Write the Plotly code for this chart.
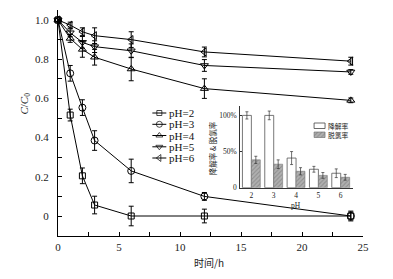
import plotly.graph_objects as go

# ---------------- data ----------------
time_h = [0, 1, 2, 3, 6, 12, 24]
series_names = ["pH=2", "pH=3", "pH=4", "pH=5", "pH=6"]
c_ph2 = [1.0, 0.515, 0.205, 0.056, 0.0, 0.0, 0.0]
c_ph3 = [1.0, 0.728, 0.553, 0.385, 0.23, 0.10, 0.0]
c_ph4 = [1.0, 0.906, 0.85, 0.81, 0.75, 0.65, 0.59]
c_ph5 = [1.0, 0.935, 0.886, 0.864, 0.843, 0.768, 0.735]
c_ph6 = [1.0, 0.974, 0.94, 0.92, 0.90, 0.837, 0.79]
e_ph2 = [0.0, 0.03, 0.04, 0.045, 0.05, 0.035, 0.025]
e_ph3 = [0.0, 0.04, 0.04, 0.05, 0.06, 0.02, 0.02]
e_ph4 = [0.0, 0.02, 0.04, 0.04, 0.06, 0.05, 0.012]
e_ph5 = [0.0, 0.02, 0.03, 0.03, 0.035, 0.03, 0.012]
e_ph6 = [0.0, 0.015, 0.02, 0.04, 0.04, 0.025, 0.02]

inset_ph = [2, 3, 4, 5, 6]
degrad_rate = [100, 100, 41, 25.5, 20]
degrad_err = [5, 6, 9, 4, 6]
dechlor_rate = [38.5, 32.5, 22.7, 17, 14.4]
dechlor_err = [5, 6, 5, 4, 4]

legend_labels_inset = ["降解率", "脱氯率"]
y_ticks = [0, 0.2, 0.4, 0.6, 0.8, 1.0]
y_ticktext = ["0", "0.2", "0.4", "0.6", "0.8", "1.0"]

# --------------- figure ---------------
W, H = 393, 279
L, R, T, B = 57.5, 30, 10, 43
PX0, PX1, PY0, PY1 = L, W - R, T, H - B

def px2x(px):
    return (px - PX0) / (PX1 - PX0)

def py2y(py):
    return (PY1 - py) / (PY1 - PY0)

SERIF = "Liberation Serif, Noto Sans CJK SC, serif"
CJK = "Noto Sans CJK SC, Liberation Serif, serif"

symbols = ["square-open", "circle-open", "triangle-up-open", "triangle-down-open", "triangle-left-open"]
sizes = [6, 7, 7, 7, 7]
ys = [c_ph2, c_ph3, c_ph4, c_ph5, c_ph6]
es = [e_ph2, e_ph3, e_ph4, e_ph5, e_ph6]

fig = go.Figure()

for name, sym, sz, y, e in zip(series_names, symbols, sizes, ys, es):
    fig.add_trace(go.Scatter(
        x=time_h, y=y, name=name, mode="lines+markers",
        line=dict(color="black", width=1),
        marker=dict(symbol=sym, size=sz, color="black", line=dict(color="black", width=1)),
        error_y=dict(type="data", array=e, visible=True, color="black", thickness=1, width=2.5),
        showlegend=False, cliponaxis=False,
    ))

# inset bars
fig.add_trace(go.Bar(
    x=inset_ph, y=degrad_rate, name=legend_labels_inset[0], xaxis="x2", yaxis="y2",
    marker=dict(color="white", line=dict(color="#555", width=0.8)),
    error_y=dict(type="data", array=degrad_err, color="#333", thickness=0.7, width=1.5),
    showlegend=False,
))
fig.add_trace(go.Bar(
    x=inset_ph, y=dechlor_rate, name=legend_labels_inset[1], xaxis="x2", yaxis="y2",
    marker=dict(color="#a8a8a8", line=dict(color="#777", width=0.6),
                pattern=dict(shape="/", fgcolor="#6e6e6e", bgcolor="#b0b0b0", size=3, solidity=0.35)),
    error_y=dict(type="data", array=dechlor_err, color="#333", thickness=0.7, width=1.5),
    showlegend=False,
))

# ---- manual legend (pixel-space helper axis) ----
leg_y = [113, 124.3, 135.5, 146.8, 158]
for name, sym, sz, yy in zip(series_names, symbols, sizes, leg_y):
    fig.add_trace(go.Scatter(
        x=[152, 159, 166], y=[yy, yy, yy], xaxis="x3", yaxis="y3", mode="lines+markers",
        line=dict(color="black", width=1),
        marker=dict(symbol=sym, size=[0, sz - 1, 0], color="black", line=dict(color="black", width=1)),
        showlegend=False, hoverinfo="skip",
    ))
    fig.add_annotation(x=167, y=yy, xref="x3", yref="y3", text=name, showarrow=False,
                       xanchor="left", yanchor="middle", font=dict(family=SERIF, size=11, color="#111"))

# inset legend swatches
sw_y = [123, 132]
sw_fill = [dict(color="white", line=dict(color="#444", width=0.8)),
           dict(color="#a8a8a8", line=dict(color="#666", width=0.6),
                pattern=dict(shape="/", fgcolor="#6e6e6e", bgcolor="#b0b0b0", size=3, solidity=0.35))]
for lab, yy, mk in zip(legend_labels_inset, sw_y, sw_fill):
    fig.add_trace(go.Bar(x=[314], y=[5.5], base=[yy], width=[11], offset=[0],
                         xaxis="x3", yaxis="y3", marker=mk, showlegend=False, hoverinfo="skip"))
    fig.add_annotation(x=325.5, y=yy + 2.8, xref="x3", yref="y3", text=lab, showarrow=False,
                       xanchor="left", yanchor="middle", font=dict(family=CJK, size=6.8, color="#222"))

fig.update_layout(
    width=W, height=H,
    margin=dict(l=L, r=R, t=T, b=B, pad=0),
    paper_bgcolor="white", plot_bgcolor="rgba(0,0,0,0)",
    barmode="group", bargap=0.2, bargroupgap=0,
    xaxis=dict(range=[0, 25], tickvals=[0, 5, 10, 15, 20, 25], ticks="inside", ticklen=4,
               tickcolor="black", showline=True, linecolor="black", linewidth=1,
               showgrid=False, zeroline=False, mirror=False,
               minor=dict(dtick=2.5, tick0=0, ticks="inside", ticklen=4, tickcolor="black", showgrid=False),
               tickfont=dict(family=SERIF, size=11, color="#222"), ticklabelstandoff=1),
    yaxis=dict(range=[-0.102, 1.051], tickvals=y_ticks, ticktext=y_ticktext, ticks="inside", ticklen=4,
               tickcolor="black", showline=True, linecolor="black", linewidth=1,
               showgrid=False, zeroline=False,
               minor=dict(dtick=0.1, tick0=0, ticks="inside", ticklen=4, tickcolor="black", showgrid=False),
               tickfont=dict(family=SERIF, size=11, color="#222"), ticklabelstandoff=6),
    xaxis2=dict(domain=[px2x(240), px2x(353)], anchor="y2", range=[1.5, 6.55],
                tickvals=inset_ph, ticks="", showline=True, linecolor="#333", linewidth=0.8,
                showgrid=False, zeroline=False,
                tickfont=dict(family=SERIF, size=7.5, color="#222"), ticklabelstandoff=0),
    yaxis2=dict(domain=[py2y(187.7), py2y(106)], anchor="x2", range=[0, 113],
                tickvals=[0, 50, 100], ticktext=["0", "50%", "100%"], ticks="inside", ticklen=2,
                tickcolor="#333", showline=True, linecolor="#333", linewidth=0.8,
                showgrid=False, zeroline=False,
                tickfont=dict(family=SERIF, size=7.5, color="#222"), ticklabelstandoff=1),
    xaxis3=dict(domain=[0, 1], range=[PX0, PX1], anchor="y3", visible=False, overlaying="x"),
    yaxis3=dict(domain=[0, 1], range=[PY1, PY0], anchor="x3", visible=False, overlaying="y"),
    showlegend=False,
)

# axis titles & inset labels
fig.add_annotation(x=px2x(24), y=py2y(104), xref="paper", yref="paper",
                   xanchor="center", yanchor="middle",
                   text="<i>C</i>/<i>C</i><sub>0</sub>", showarrow=False, textangle=-90,
                   font=dict(family=SERIF, size=11, color="#222"))
fig.add_annotation(x=px2x(209), y=py2y(262), xref="paper", yref="paper",
                   xanchor="center", yanchor="middle",
                   text="时间/h", showarrow=False,
                   font=dict(family=CJK, size=10, color="#222"))
fig.add_annotation(x=px2x(212), y=py2y(148), xref="paper", yref="paper",
                   xanchor="center", yanchor="middle",
                   text="降解率 &amp; 脱氯率", showarrow=False, textangle=-90,
                   font=dict(family=CJK, size=7.5, color="#222"))
fig.add_annotation(x=px2x(296), y=py2y(205), xref="paper", yref="paper",
                   xanchor="center", yanchor="middle",
                   text="pH", showarrow=False,
                   font=dict(family=SERIF, size=7.5, color="#222"))

fig.write_html("out.html", config={"displayModeBar": False},
               post_script="document.body.style.margin='0';document.body.style.padding='0';")
